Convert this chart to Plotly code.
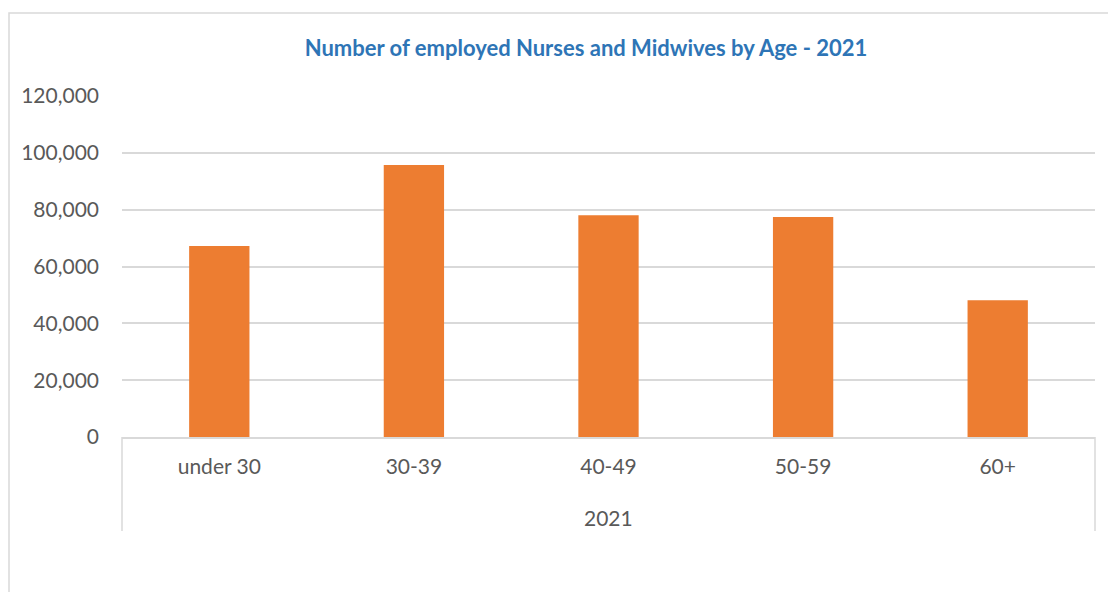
import plotly.graph_objects as go

categories = ["under 30", "30-39", "40-49", "50-59", "60+"]
group_label = "2021"
values = [67200, 95700, 78000, 77400, 48100]
title_text = "Number of employed Nurses and Midwives by Age - 2021"

W, H = 1108, 592
L, R, T, B = 122, 13, 96, 155
pw = W - L - R
ph = H - T - B
FONT = "Lato, Carlito, Calibri, sans-serif"
GREY = "#595959"
LINE = "#D9D9D9"

fig = go.Figure()
fig.add_trace(go.Bar(
    x=categories,
    y=values,
    marker=dict(color="#ED7D31", line=dict(width=0)),
    width=0.31,
    hoverinfo="y",
))

def px_x(p):
    return (p - L) / pw

def px_y(p):
    return (H - B - p) / ph

fig.update_layout(
    width=W, height=H,
    margin=dict(l=L, r=R, t=T, b=B),
    paper_bgcolor="white",
    plot_bgcolor="white",
    showlegend=False,
    font=dict(family=FONT, color=GREY, size=21),
    title=dict(
        text="<b>" + title_text + "</b>",
        x=586 / W, xanchor="center",
        y=1 - 48 / H, yanchor="middle", yref="container",
        font=dict(family=FONT, size=22, color="#2E75B6"),
    ),
    shapes=[
        dict(type="rect", xref="paper", yref="paper",
             x0=px_x(9), x1=px_x(1140), y0=px_y(640), y1=px_y(13),
             line=dict(color=LINE, width=1.5), fillcolor="rgba(0,0,0,0)", layer="below"),
        dict(type="line", xref="paper", yref="paper",
             x0=0, x1=0, y0=0, y1=px_y(531), line=dict(color=LINE, width=1.5)),
        dict(type="line", xref="paper", yref="paper",
             x0=1, x1=1, y0=0, y1=px_y(531), line=dict(color=LINE, width=1.5)),
    ],
    annotations=[
        dict(text=group_label, xref="paper", yref="paper", x=0.5, y=px_y(517),
             xanchor="center", yanchor="middle", showarrow=False,
             font=dict(family=FONT, size=21, color=GREY)),
    ],
)

fig.update_yaxes(
    range=[0, 120000],
    tickvals=[0, 20000, 40000, 60000, 80000, 100000, 120000],
    tickformat=",d",
    showgrid=True, gridcolor=LINE, gridwidth=1.5,
    zeroline=False,
    showline=False,
    ticks="",
    ticklabelstandoff=22,
    tickfont=dict(size=21, color=GREY),
    fixedrange=True,
)
fig.update_xaxes(
    type="category",
    showline=True, linecolor=LINE, linewidth=1.5,
    ticks="",
    ticklabelstandoff=10,
    tickfont=dict(size=21, color=GREY),
    showgrid=False,
    fixedrange=True,
)

fig.write_html(
    "out.html",
    config={"displayModeBar": False},
    post_script="document.body.style.margin='0';document.body.style.overflow='hidden';",
)
